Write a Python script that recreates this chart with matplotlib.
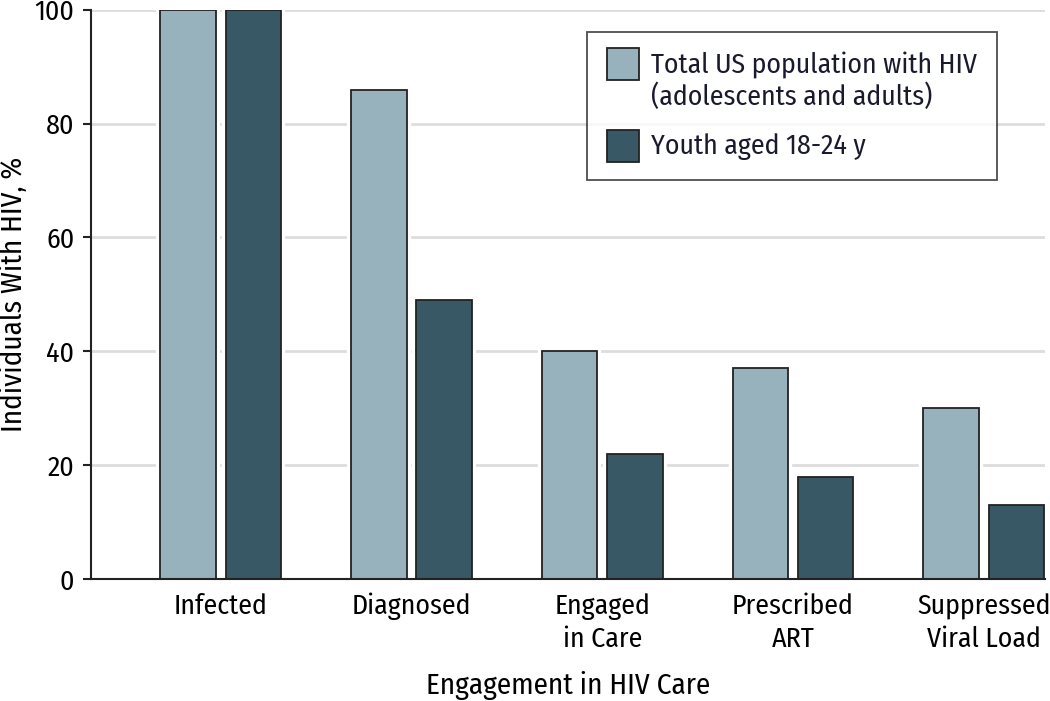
import numpy as np
import matplotlib
matplotlib.use("Agg")
import matplotlib.pyplot as plt
import matplotlib.patches as mpatches
from matplotlib import font_manager
from matplotlib.legend_handler import HandlerPatch

categories = ["Infected", "Diagnosed", "Engaged\nin Care", "Prescribed\nART", "Suppressed\nViral Load"]
total_us = [100, 86, 40, 37, 30]
youth = [100, 49, 22, 18, 13]
labels = ["Total US population with HIV\n(adolescents and adults)", "Youth aged 18-24 y"]

names = {f.name for f in font_manager.fontManager.ttflist}
fam = "DejaVu Sans"
for cand in ["Fira Sans Condensed", "Roboto Condensed", "Open Sans Condensed",
             "Liberation Sans Narrow", "PT Sans Narrow", "Archivo Narrow"]:
    if cand in names:
        fam = cand
        break
plt.rcParams['font.family'] = [fam, 'DejaVu Sans']
plt.rcParams['text.color'] = '#1a1a2e'

light = "#97b2bd"
dark = "#385865"
edge = "#222222"
width = 0.29
off = 0.171
fs = 20

fig = plt.figure(figsize=(10.5, 7.01), dpi=100)
ax = fig.add_axes([0.0867, 0.174, 0.9083, 0.812])

x = np.arange(len(categories))
ax.set_axisbelow(True)
ax.yaxis.grid(True, color="#dddddd", linewidth=2)
# white halo so the grid stops short of the bars
ax.bar(x - off, total_us, width, color=light, edgecolor="white", linewidth=6)
ax.bar(x + off, youth, width, color=dark, edgecolor="white", linewidth=6)
ax.bar(x - off, total_us, width, color=light, edgecolor=edge, linewidth=1.3)
ax.bar(x + off, youth, width, color=dark, edgecolor=edge, linewidth=1.3)

ax.set_xlim(-0.68, 4.32)
ax.set_ylim(0, 100)
ax.set_yticks([0, 20, 40, 60, 80, 100])
ax.set_xticks(x)
ax.set_xticklabels(categories, fontsize=fs, linespacing=1.3)
ax.tick_params(axis='x', length=0, pad=10)
ax.tick_params(axis='y', length=6, width=1.5, labelsize=fs, pad=6, color=edge)
for s in ["top", "right"]:
    ax.spines[s].set_visible(False)
for s in ["left", "bottom"]:
    ax.spines[s].set_linewidth(1.5)
    ax.spines[s].set_color(edge)

ax.set_xlabel("Engagement in HIV Care", fontsize=fs + 1, labelpad=13)
ax.set_ylabel("Individuals With HIV, %", fontsize=fs + 1)
ax.yaxis.set_label_coords(-0.066, 0.5)


def square(lines):
    # square swatch lined up with the first text line
    def make(legend, orig_handle, xdescent, ydescent, width, height, fontsize):
        shift = (lines - 1) * 0.72 * fontsize
        return mpatches.Rectangle((-xdescent, -0.27 * fontsize + shift), width, width)
    return make


h1 = mpatches.Patch(facecolor=light, edgecolor=edge, linewidth=1.3)
h2 = mpatches.Patch(facecolor=dark, edgecolor=edge, linewidth=1.3)
leg = ax.legend([h1, h2], labels, loc="upper right", bbox_to_anchor=(0.9496, 0.961),
                fontsize=fs, frameon=True, fancybox=False, edgecolor=edge,
                handlelength=1.15, handletextpad=0.43,
                borderpad=0.72, labelspacing=0.8, borderaxespad=0,
                handler_map={h1: HandlerPatch(patch_func=square(2)),
                             h2: HandlerPatch(patch_func=square(1))})
leg.get_frame().set_linewidth(1.3)

plt.savefig("out.png", dpi=100)
